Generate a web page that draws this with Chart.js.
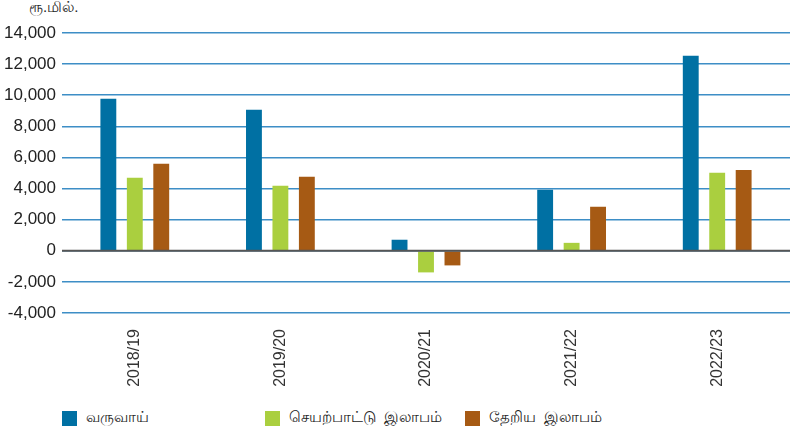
<!DOCTYPE html>
<html>
<head>
<meta charset="utf-8">
<script src="https://cdn.jsdelivr.net/npm/chart.js@4"></script>
<style>
    body { margin: 0; background: #fff; font-family: "Liberation Sans", Arial, sans-serif; }
    #wrap { position: relative; width: 793px; height: 436px; }
    #chartBox { position: absolute; left: 0; top: 0; width: 793px; height: 400px; }
    .unit { position: absolute; left: 29px; top: -2px; font-size: 15px; color: #222; }
    .legend-item { position: absolute; top: 408px; display: flex; align-items: center; font-size: 15px; color: #222; }
    .legend-item span.box { display: inline-block; width: 15px; height: 15px; margin-right: 9px; }
</style>
</head>
<body>
<div id="wrap">
    <div class="unit">ரூ.மில்.</div>
    <div id="chartBox"><canvas id="barChart"></canvas></div>
    <div id="legend"></div>
</div>
<script>
const years = ['2018/19', '2019/20', '2020/21', '2021/22', '2022/23'];
const revenue = [9770, 9060, 710, 3920, 12530];
const operatingProfit = [4690, 4180, -1390, 510, 5010];
const netProfit = [5590, 4760, -940, 2830, 5200];
const seriesNames = ['வருவாய்', 'செயற்பாட்டு  இலாபம்', 'தேறிய  இலாபம்'];
const seriesColors = ['#0070a3', '#aacf3f', '#a65a14'];
const yMin = -4000, yMax = 14000, yStep = 2000;

// Zero line drawn over the bars
const zeroLine = {
    id: 'zeroLine',
    afterDatasetsDraw(chart) {
        const { ctx, chartArea, scales } = chart;
        const y = scales.y.getPixelForValue(0);
        ctx.save();
        ctx.strokeStyle = '#555';
        ctx.lineWidth = 2;
        ctx.beginPath();
        ctx.moveTo(chartArea.left, y);
        ctx.lineTo(chartArea.right, y);
        ctx.stroke();
        ctx.restore();
    }
};

document.addEventListener('DOMContentLoaded', () => {
    const ctx = document.getElementById('barChart').getContext('2d');
    const values = [revenue, operatingProfit, netProfit];

    new Chart(ctx, {
        type: 'bar',
        data: {
            labels: years,
            datasets: values.map((v, i) => ({
                label: seriesNames[i],
                data: v,
                backgroundColor: seriesColors[i],
                barPercentage: 0.6,
                categoryPercentage: 0.545
            }))
        },
        options: {
            responsive: true,
            maintainAspectRatio: false,
            animation: false,
            layout: { padding: { top: 33, right: 3, left: 0, bottom: 0 } },
            plugins: {
                legend: { display: false },
                tooltip: { enabled: false }
            },
            scales: {
                y: {
                    min: yMin,
                    max: yMax,
                    ticks: {
                        stepSize: yStep,
                        color: '#222',
                        padding: 6,
                        font: { family: '"Liberation Sans", Arial, sans-serif', size: 17 },
                        callback: (v) => v.toLocaleString('en-US')
                    },
                    grid: {
                        color: '#3d8ec6',
                        lineWidth: 1.6,
                        drawTicks: false
                    },
                    border: { display: false },
                    afterFit: (scale) => { scale.width = 62; }
                },
                x: {
                    ticks: {
                        color: '#333',
                        maxRotation: 90,
                        minRotation: 90,
                        padding: 8,
                        font: { family: '"Liberation Sans", Arial, sans-serif', size: 16 }
                    },
                    grid: { display: false },
                    border: { display: false },
                    afterFit: (scale) => { scale.height = 87; }
                }
            }
        },
        plugins: [zeroLine]
    });

    const legendLeft = [62, 265, 465];
    document.getElementById('legend').innerHTML = seriesNames.map((n, i) => `
        <div class="legend-item" style="left:${legendLeft[i]}px">
            <span class="box" style="background:${seriesColors[i]}"></span>${n.replace(/ /g, '&nbsp;')}
        </div>
    `).join('');
});
</script>
</body>
</html>
